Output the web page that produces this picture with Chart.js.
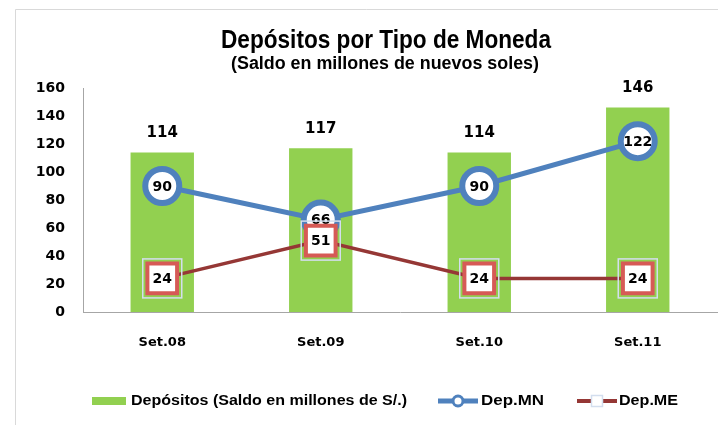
<!DOCTYPE html>
<html><head><meta charset="utf-8">
<script src="https://cdn.jsdelivr.net/npm/chart.js@4"></script>
<style>html,body{margin:0;padding:0;background:#fff}canvas{display:block}</style>
</head><body>
<canvas id="c" width="718" height="425"></canvas>
<script>
const categories = ['Set.08', 'Set.09', 'Set.10', 'Set.11'];
const depositos = [114, 117, 114, 146];
const depMN = [90, 66, 90, 122];
const depME = [24, 51, 24, 24];
const yTicks = [0, 20, 40, 60, 80, 100, 120, 140, 160];
const titleText = 'Depósitos por Tipo de Moneda';
const subtitleText = '(Saldo en millones de nuevos soles)';
const legendLabels = ['Depósitos (Saldo en millones de S/.)', 'Dep.MN', 'Dep.ME'];

const GREEN = '#92D050', BLUE = '#4F81BD', DARKRED = '#953735', RED = '#D65A56', PALE = '#D3DEEE';
const NUMFONT = '"DejaVu Sans", sans-serif';

function fitText(ctx, text, x, y, targetW, align) {
  const w = ctx.measureText(text).width;
  const s = targetW / w;
  ctx.save();
  ctx.textBaseline = 'middle';
  ctx.textAlign = 'left';
  let left = x;
  if (align === 'center') left = x - targetW / 2;
  ctx.translate(left, y);
  ctx.scale(s, 1);
  ctx.fillText(text, 0, 0);
  ctx.restore();
}

const decor = {
  id: 'decor',
  beforeDraw(chart) {
    const ctx = chart.ctx;
    ctx.save();
    ctx.fillStyle = '#fff';
    ctx.fillRect(0, 0, chart.width, chart.height);
    ctx.strokeStyle = '#D9D9D9';
    ctx.lineWidth = 1;
    ctx.beginPath();
    ctx.moveTo(15.5, 425); ctx.lineTo(15.5, 9.5); ctx.lineTo(718, 9.5);
    ctx.stroke();
    ctx.fillStyle = '#000';
    ctx.font = 'bold 26px "Liberation Sans Narrow", "Liberation Sans", sans-serif';
    fitText(ctx, titleText, 386, 41, 330, 'center');
    ctx.font = 'bold 18px "Liberation Sans Narrow", "Liberation Sans", sans-serif';
    fitText(ctx, subtitleText, 385, 64, 308, 'center');
    ctx.restore();
  },
  afterDatasetDraw(chart, args) {
    const ctx = chart.ctx;
    const meta = args.meta;
    const idx = args.index;
    const ds = chart.data.datasets[idx];
    ctx.save();
    ctx.fillStyle = '#000';
    ctx.textAlign = 'center';
    ctx.textBaseline = 'middle';
    if (idx === 0) {
      ctx.font = 'bold 15px ' + NUMFONT;
      meta.data.forEach((el, i) => ctx.fillText(String(ds.data[i]), el.x, el.y - 19));
    } else if (idx === 1) {
      ctx.font = 'bold 14px ' + NUMFONT;
      meta.data.forEach((el, i) => ctx.fillText(String(ds.data[i]), el.x, el.y + 1));
    } else if (idx === 2) {
      ctx.strokeStyle = PALE;
      ctx.lineWidth = 1.5;
      meta.data.forEach((el) => ctx.strokeRect(el.x - 19.5, el.y - 19.5, 39, 39));
      ctx.font = 'bold 14px ' + NUMFONT;
      meta.data.forEach((el, i) => ctx.fillText(String(ds.data[i]), el.x, el.y + 1));
    }
    ctx.restore();
  },
  afterDraw(chart) {
    const ctx = chart.ctx;
    const ly = 401;
    ctx.save();
    ctx.fillStyle = GREEN;
    ctx.fillRect(92, 397, 34, 8);
    ctx.fillStyle = '#000';
    ctx.font = 'bold 14px "Liberation Sans", sans-serif';
    fitText(ctx, legendLabels[0], 131, ly, 276, 'left');
    ctx.strokeStyle = BLUE; ctx.lineWidth = 5;
    ctx.beginPath(); ctx.moveTo(438, ly); ctx.lineTo(478, ly); ctx.stroke();
    ctx.fillStyle = '#fff'; ctx.lineWidth = 3;
    ctx.beginPath(); ctx.arc(458, ly, 5, 0, Math.PI * 2); ctx.fill(); ctx.stroke();
    ctx.fillStyle = '#000';
    fitText(ctx, legendLabels[1], 481, ly, 63, 'left');
    ctx.strokeStyle = DARKRED; ctx.lineWidth = 4;
    ctx.beginPath(); ctx.moveTo(577, ly); ctx.lineTo(617, ly); ctx.stroke();
    ctx.fillStyle = '#fff'; ctx.fillRect(591.5, ly - 5.5, 11, 11);
    ctx.strokeStyle = PALE; ctx.lineWidth = 1.5;
    ctx.strokeRect(591.5, ly - 5.5, 11, 11);
    ctx.fillStyle = '#000';
    fitText(ctx, legendLabels[2], 619, ly, 59, 'left');
    ctx.restore();
  }
};

new Chart(document.getElementById('c'), {
  type: 'bar',
  data: {
    labels: categories,
    datasets: [
      {
        type: 'bar', label: legendLabels[0], data: depositos,
        backgroundColor: GREEN, borderWidth: 0,
        barPercentage: 0.4, categoryPercentage: 1, order: 3
      },
      {
        type: 'line', label: legendLabels[1], data: depMN,
        borderColor: BLUE, borderWidth: 5, tension: 0,
        pointRadius: 17, pointBorderWidth: 6, pointBackgroundColor: '#fff',
        pointBorderColor: BLUE, pointHoverRadius: 17, order: 2
      },
      {
        type: 'line', label: legendLabels[2], data: depME,
        borderColor: DARKRED, borderWidth: 3.5, tension: 0,
        pointStyle: 'rect', pointRadius: 21, pointBorderWidth: 4,
        pointBackgroundColor: '#fff', pointBorderColor: RED, pointHoverRadius: 21, order: 1
      }
    ]
  },
  options: {
    responsive: false,
    animation: false,
    events: [],
    layout: { autoPadding: false, padding: { top: 88, right: 1, bottom: 0, left: 0 } },
    plugins: { legend: { display: false }, title: { display: false }, tooltip: { enabled: false } },
    scales: {
      x: {
        offset: true,
        grid: { display: false, drawTicks: false },
        border: { display: true, color: '#A6A6A6', width: 1 },
        ticks: { color: '#000', font: { family: NUMFONT, weight: 'bold', size: 13 }, padding: 23 },
        afterFit(s) { s.height = 113; }
      },
      y: {
        min: 0, max: 160,
        grid: { display: false, drawTicks: false },
        border: { display: true, color: '#A6A6A6', width: 1 },
        ticks: { color: '#000', font: { family: NUMFONT, weight: 'bold', size: 14 }, padding: 18 },
        afterBuildTicks(s) { s.ticks = yTicks.map(v => ({ value: v })); },
        afterFit(s) { s.width = 83; }
      }
    }
  },
  plugins: [decor]
});
</script>
</body></html>
